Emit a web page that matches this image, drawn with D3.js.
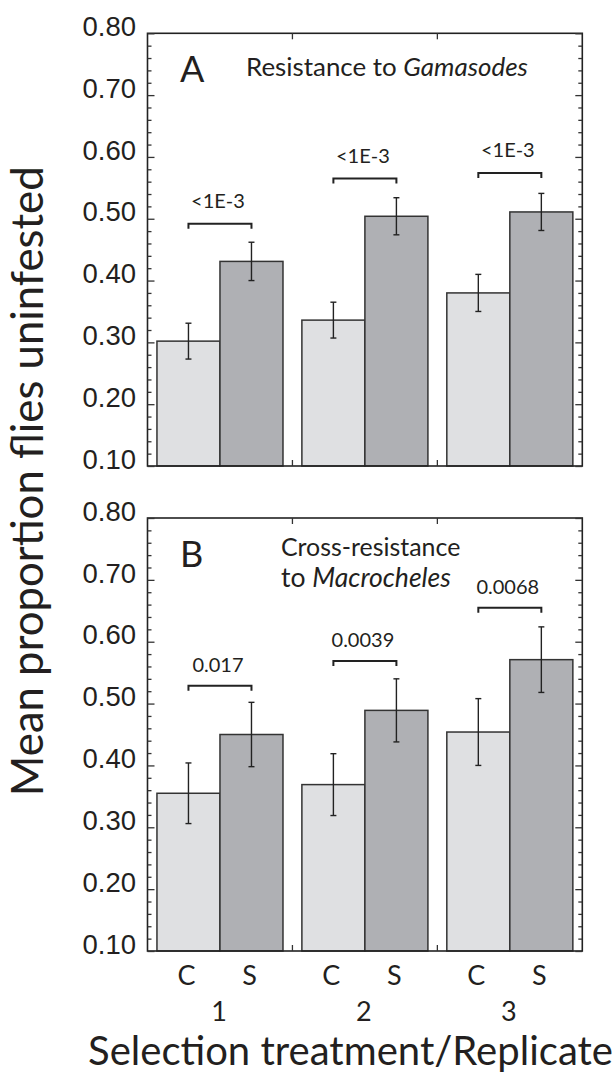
<!DOCTYPE html>
<html>
<head>
<meta charset="utf-8">
<script src="https://cdn.jsdelivr.net/npm/d3@7"></script>
<style>
body { margin: 0; background: #fff; }
svg { display: block; }
</style>
</head>
<body>
<svg id="chart" width="614" height="1078"></svg>
<script>
// groups and bars
var replicates = ['1', '2', '3'];
var treatments = ['C', 'S'];
var yTicks = [0.10, 0.20, 0.30, 0.40, 0.50, 0.60, 0.70, 0.80];

// panel A : resistance to Gamasodes
var gamC = [0.302, 0.336, 0.380];
var gamCErr = [0.029, 0.029, 0.030];
var gamS = [0.431, 0.504, 0.511];
var gamSErr = [0.031, 0.030, 0.030];
var gamBracket = [0.492, 0.565, 0.574];
var gamP = ['<1E-3', '<1E-3', '<1E-3'];

// panel B : cross-resistance to Macrocheles
var macC = [0.355, 0.369, 0.454];
var macCErr = [0.049, 0.050, 0.054];
var macS = [0.450, 0.489, 0.571];
var macSErr = [0.052, 0.051, 0.053];
var macBracket = [0.529, 0.569, 0.655];
var macP = ['0.017', '0.0039', '0.0068'];

var sansFont = 'Lato, "Open Sans", sans-serif';
var tickFont = '"Liberation Sans", Arial, sans-serif';
var ink = '#231f20';
var fills = { C: '#dfe0e2', S: '#afb0b4' };

var svg = d3.select('#chart');
var left = 147.5, right = 582.3;

var x0 = d3.scaleBand().domain(replicates).range([left, right]).padding(0);
var x1 = d3.scaleBand().domain(treatments).range([0, x0.bandwidth()])
	.paddingInner(0).paddingOuter(0.15);

function fitWidth(sel, w) {
	sel.each(function() {
		var len = this.getComputedTextLength();
		var fs = parseFloat(d3.select(this).attr('font-size'));
		if(len > 0) d3.select(this).attr('font-size', fs * w / len);
	});
}

function drawPanel(o) {
	var y = d3.scaleLinear().domain([0.1, 0.8]).range([o.bottom, o.top]);
	var g = svg.append('g').attr('class', 'panel');

	var rows = replicates.map(function(r, i) {
		return [
			{ rep: r, t: 'C', v: o.c[i], e: o.cErr[i] },
			{ rep: r, t: 'S', v: o.s[i], e: o.sErr[i] }
		];
	});
	var bars = d3.merge(rows);

	// bars
	g.selectAll('rect.bar').data(bars).enter().append('rect')
		.attr('class', 'bar')
		.attr('x', function(d) { return x0(d.rep) + x1(d.t); })
		.attr('y', function(d) { return y(d.v); })
		.attr('width', x1.bandwidth())
		.attr('height', function(d) { return y(0.1) - y(d.v); })
		.attr('fill', function(d) { return fills[d.t]; })
		.attr('stroke', '#333')
		.attr('stroke-width', 1.5);

	// error bars
	var cx = function(d) { return x0(d.rep) + x1(d.t) + x1.bandwidth() / 2; };
	var err = g.selectAll('g.err').data(bars).enter().append('g')
		.attr('class', 'err')
		.attr('stroke', '#222')
		.attr('stroke-width', 1.4);
	err.append('line')
		.attr('x1', cx).attr('x2', cx)
		.attr('y1', function(d) { return y(d.v + d.e); })
		.attr('y2', function(d) { return y(d.v - d.e); });
	[1, -1].forEach(function(sgn) {
		err.append('line')
			.attr('x1', function(d) { return cx(d) - 3; })
			.attr('x2', function(d) { return cx(d) + 3; })
			.attr('y1', function(d) { return y(d.v + sgn * d.e); })
			.attr('y2', function(d) { return y(d.v + sgn * d.e); });
	});

	// significance brackets
	var br = g.selectAll('g.bracket').data(replicates).enter().append('g')
		.attr('class', 'bracket');
	br.append('path')
		.attr('fill', 'none')
		.attr('stroke', '#222')
		.attr('stroke-width', 2)
		.attr('d', function(r, i) {
			var xa = x0(r) + x1('C') + x1.bandwidth() / 2;
			var xb = x0(r) + x1('S') + x1.bandwidth() / 2;
			var yy = y(o.bracket[i]);
			return 'M' + xa + ',' + (yy + 5) + 'V' + yy + 'H' + xb + 'V' + (yy + 5);
		});
	br.append('text')
		.attr('x', function(r) { return x0(r) + x0.bandwidth() / 2 - 2; })
		.attr('y', function(r, i) { return y(o.bracket[i]) - o.pGap; })
		.attr('text-anchor', 'middle')
		.attr('font-family', sansFont)
		.attr('font-size', 20)
		.attr('fill', ink)
		.text(function(r, i) { return o.p[i]; });

	// frame with inward ticks
	g.append('rect')
		.attr('x', left).attr('y', o.top)
		.attr('width', right - left).attr('height', o.bottom - o.top)
		.attr('fill', 'none')
		.attr('stroke', '#222')
		.attr('stroke-width', 1.6);

	var minor = d3.range(0.12, 0.8, 0.02).filter(function(v) {
		return Math.abs(v * 10 - Math.round(v * 10)) > 0.01;
	});
	g.append('g')
		.attr('transform', 'translate(' + left + ',0)')
		.call(d3.axisRight(y).tickValues(yTicks).tickSize(7).tickFormat(''))
		.call(function(a) { a.select('.domain').remove(); });
	g.append('g')
		.attr('transform', 'translate(' + left + ',0)')
		.call(d3.axisRight(y).tickValues(minor).tickSize(4).tickFormat(''))
		.call(function(a) { a.select('.domain').remove(); });
	g.append('g')
		.attr('transform', 'translate(' + right + ',0)')
		.call(d3.axisLeft(y).tickValues(yTicks).tickSize(7).tickFormat(''))
		.call(function(a) { a.select('.domain').remove(); });
	g.append('g')
		.attr('transform', 'translate(' + right + ',0)')
		.call(d3.axisLeft(y).tickValues(minor).tickSize(4).tickFormat(''))
		.call(function(a) { a.select('.domain').remove(); });
	g.selectAll('.tick line').attr('stroke', '#333').attr('stroke-width', 1.3);

	// group separators on top and bottom edges
	var seps = replicates.slice(1).map(function(r) { return x0(r); });
	g.selectAll('line.sep').data(seps).enter().append('line')
		.attr('class', 'sep')
		.attr('x1', function(d) { return d; }).attr('x2', function(d) { return d; })
		.attr('y1', o.top).attr('y2', o.top + 6)
		.attr('stroke', '#333').attr('stroke-width', 1.3);
	g.selectAll('line.sep2').data(seps).enter().append('line')
		.attr('class', 'sep2')
		.attr('x1', function(d) { return d; }).attr('x2', function(d) { return d; })
		.attr('y1', o.bottom).attr('y2', o.bottom - 6)
		.attr('stroke', '#333').attr('stroke-width', 1.3);

	// tick labels
	g.selectAll('text.ylab').data(yTicks).enter().append('text')
		.attr('class', 'ylab')
		.attr('x', 136)
		.attr('y', function(d) { return y(d) + 2.7; })
		.attr('text-anchor', 'end')
		.attr('font-family', tickFont)
		.attr('font-size', 27.5)
		.attr('fill', ink)
		.text(function(d) { return d3.format('.2f')(d); });

	// panel letter and caption
	g.append('text')
		.attr('x', 180)
		.attr('y', o.top + 49)
		.attr('font-family', sansFont)
		.attr('font-size', 36)
		.attr('fill', ink)
		.text(o.letter);
	o.notes.forEach(function(line, i) {
		var t = g.append('text')
			.attr('x', o.noteX)
			.attr('y', o.noteY[i])
			.attr('font-family', sansFont)
			.attr('font-size', 22)
			.attr('fill', ink);
		line.forEach(function(part) {
			t.append('tspan')
				.attr('font-style', part.it ? 'italic' : null)
				.text(part.s);
		});
		fitWidth(t, o.noteW[i]);
	});
}

drawPanel({
	top: 33.3, bottom: 466, letter: 'A',
	c: gamC, cErr: gamCErr, s: gamS, sErr: gamSErr,
	bracket: gamBracket, p: gamP, pGap: 16,
	notes: [[{ s: 'Resistance to ' }, { s: 'Gamasodes', it: true }]],
	noteX: 246, noteY: [75.7], noteW: [282]
});
drawPanel({
	top: 518, bottom: 951, letter: 'B',
	c: macC, cErr: macCErr, s: macS, sErr: macSErr,
	bracket: macBracket, p: macP, pGap: 13.5,
	notes: [[{ s: 'Cross-resistance' }], [{ s: 'to ' }, { s: 'Macrocheles', it: true }]],
	noteX: 281, noteY: [556, 587.3], noteW: [179.5, 170]
});

// x axis category labels
var catData = d3.cross(replicates, treatments);
svg.selectAll('text.cat').data(catData).enter().append('text')
	.attr('class', 'cat')
	.attr('x', function(d) { return x0(d[0]) + x1(d[1]) + x1.bandwidth() / 2 - 2; })
	.attr('y', 985)
	.attr('text-anchor', 'middle')
	.attr('font-family', sansFont)
	.attr('font-size', 27)
	.attr('fill', ink)
	.text(function(d) { return d[1]; });
svg.selectAll('text.rep').data(replicates).enter().append('text')
	.attr('class', 'rep')
	.attr('x', function(d) { return x0(d) + x0.bandwidth() / 2 - 1; })
	.attr('y', 1021)
	.attr('text-anchor', 'middle')
	.attr('font-family', sansFont)
	.attr('font-size', 27)
	.attr('fill', ink)
	.text(function(d) { return d; });

// axis titles
var xTitle = svg.append('text')
	.attr('x', 350.5)
	.attr('y', 1065)
	.attr('text-anchor', 'middle')
	.attr('font-family', sansFont)
	.attr('font-size', 36)
	.attr('fill', ink)
	.text('Selection treatment/Replicate');
fitWidth(xTitle, 525);

var yTitle = svg.append('text')
	.attr('transform', 'translate(43.3,481.3) rotate(-90)')
	.attr('text-anchor', 'middle')
	.attr('font-family', sansFont)
	.attr('font-size', 38)
	.attr('fill', ink)
	.text('Mean proportion flies uninfested');
fitWidth(yTitle, 630);
</script>
</body>
</html>
